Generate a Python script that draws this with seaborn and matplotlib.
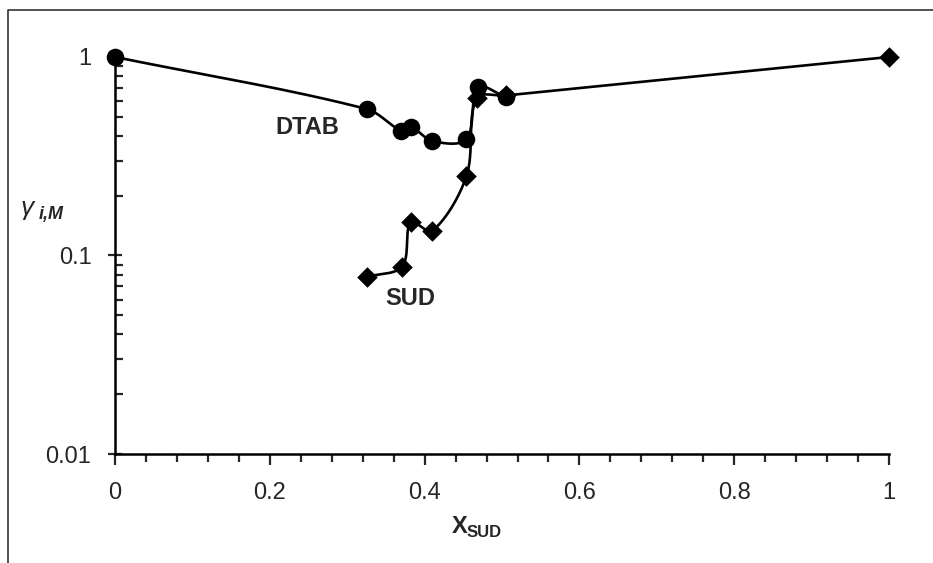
import numpy as np
import matplotlib
matplotlib.use("Agg")
import matplotlib.pyplot as plt
import seaborn as sns
import pandas as pd
from matplotlib.lines import Line2D
from matplotlib.ticker import FixedLocator, MultipleLocator, NullFormatter

# data
x_dtab = [0.0, 0.325, 0.370, 0.383, 0.410, 0.454, 0.469, 0.505]
g_dtab = [1.0, 0.547, 0.425, 0.442, 0.377, 0.385, 0.703, 0.627]
x_sud = [0.325, 0.371, 0.382, 0.410, 0.454, 0.467, 0.505, 1.0]
g_sud = [0.078, 0.088, 0.147, 0.133, 0.251, 0.619, 0.640, 1.0]
x_ticks = [0, 0.2, 0.4, 0.6, 0.8, 1]
x_labels = ['0', '0.2', '0.4', '0.6', '0.8', '1']
y_ticks = [0.01, 0.1, 1]
y_labels = ['0.01', '0.1', '1']

sns.set_style("white")
plt.rcParams['font.family'] = ['Liberation Sans', 'DejaVu Sans']


def smooth(x, y, n=30):
    # smoothed line like excel: bezier segments, tangents split by chord length
    # worked out in screen-like units (x span ~774 px, one decade ~198 px)
    P = np.column_stack([np.asarray(x, float) * 774,
                         np.log10(np.asarray(y, float)) * 198.5])
    m = len(P)
    left = np.zeros_like(P)
    right = np.zeros_like(P)
    for i in range(m):
        a = P[max(i - 1, 0)]
        b = P[min(i + 1, m - 1)]
        T = b - a
        dl = np.linalg.norm(P[i] - a)
        dr = np.linalg.norm(b - P[i])
        tot = dl + dr if dl + dr > 0 else 1
        right[i] = P[i] + T * dr / tot / 3
        left[i] = P[i] - T * dl / tot / 3
    t = np.linspace(0, 1, n)[:, None]
    out = []
    for i in range(m - 1):
        p0, c1, c2, p3 = P[i], right[i], left[i + 1], P[i + 1]
        seg = ((1 - t) ** 3) * p0 + 3 * ((1 - t) ** 2) * t * c1 + 3 * (1 - t) * t ** 2 * c2 + t ** 3 * p3
        out.append(seg)
    out = np.vstack(out)
    return out[:, 0] / 774, 10 ** (out[:, 1] / 198.5)


fig = plt.figure(figsize=(9.33, 5.63), dpi=100)
ax = fig.add_axes([0.1233, 0.1936, 0.8296, 0.7052])

sx, sy = smooth(x_dtab, g_dtab)
ax.plot(sx, sy, color='black', lw=1.9, clip_on=False, zorder=2)
sx, sy = smooth(x_sud, g_sud)
ax.plot(sx, sy, color='black', lw=1.9, clip_on=False, zorder=2)

df_d = pd.DataFrame({'x': x_dtab, 'g': g_dtab})
df_s = pd.DataFrame({'x': x_sud, 'g': g_sud})
sns.scatterplot(data=df_s, x='x', y='g', marker='D', s=110, color='black',
                edgecolor='black', linewidth=0, ax=ax, clip_on=False, zorder=3)
sns.scatterplot(data=df_d, x='x', y='g', marker='o', s=160, color='black',
                edgecolor='black', linewidth=0, ax=ax, clip_on=False, zorder=4)

ax.set_yscale('log')
ax.set_xlim(0, 1)
ax.set_ylim(0.01, 1)

ax.xaxis.set_major_locator(FixedLocator(x_ticks))
ax.set_xticklabels(x_labels)
ax.xaxis.set_minor_locator(MultipleLocator(0.04))
ax.yaxis.set_major_locator(FixedLocator(y_ticks))
ax.set_yticklabels(y_labels)
ax.yaxis.set_minor_formatter(NullFormatter())

ax.tick_params(axis='x', which='major', direction='out', length=8, width=1.6,
               pad=12, labelsize=17, bottom=True)
ax.tick_params(axis='x', which='minor', direction='out', length=5.5, width=1.6, bottom=True)
ax.tick_params(axis='y', which='major', direction='inout', length=10, width=1.6,
               pad=12, labelsize=17, left=True)
ax.tick_params(axis='y', which='minor', direction='in', length=6, width=1.6, left=True)

for s in ['top', 'right']:
    ax.spines[s].set_visible(False)
for s in ['left', 'bottom']:
    ax.spines[s].set_linewidth(1.8)
    ax.spines[s].set_color('black')

ax.set_xlabel('')
ax.set_ylabel('')

ax.text(0.249, 0.441, 'DTAB', fontsize=17, fontweight='bold', ha='center', va='center')
ax.text(0.382, 0.0607, 'SUD', fontsize=17, fontweight='bold', ha='center', va='center')

# x axis title: X with subscript SUD
fig.text(452 / 933, 1 - 533 / 563, 'X', fontsize=17, fontweight='bold',
         ha='left', va='baseline')
fig.text(467 / 933, 1 - 537 / 563, 'SUD', fontsize=12, fontweight='bold',
         ha='left', va='baseline')
# y axis title: gamma with subscript i,M
fig.text(21 / 933, 1 - 215 / 563, 'γ', fontsize=19, style='italic',
         ha='left', va='baseline')
fig.text(39 / 933, 1 - 219 / 563, 'i,M', fontsize=13, style='italic',
         fontweight='bold', ha='left', va='baseline')

# outer frame (chart area border)
fig.add_artist(Line2D([8 / 933, 8 / 933, 1.0], [0.0, 1 - 10 / 563, 1 - 10 / 563],
                      color='#333333', lw=1.2, transform=fig.transFigure))

fig.savefig('out.png', dpi=100)
